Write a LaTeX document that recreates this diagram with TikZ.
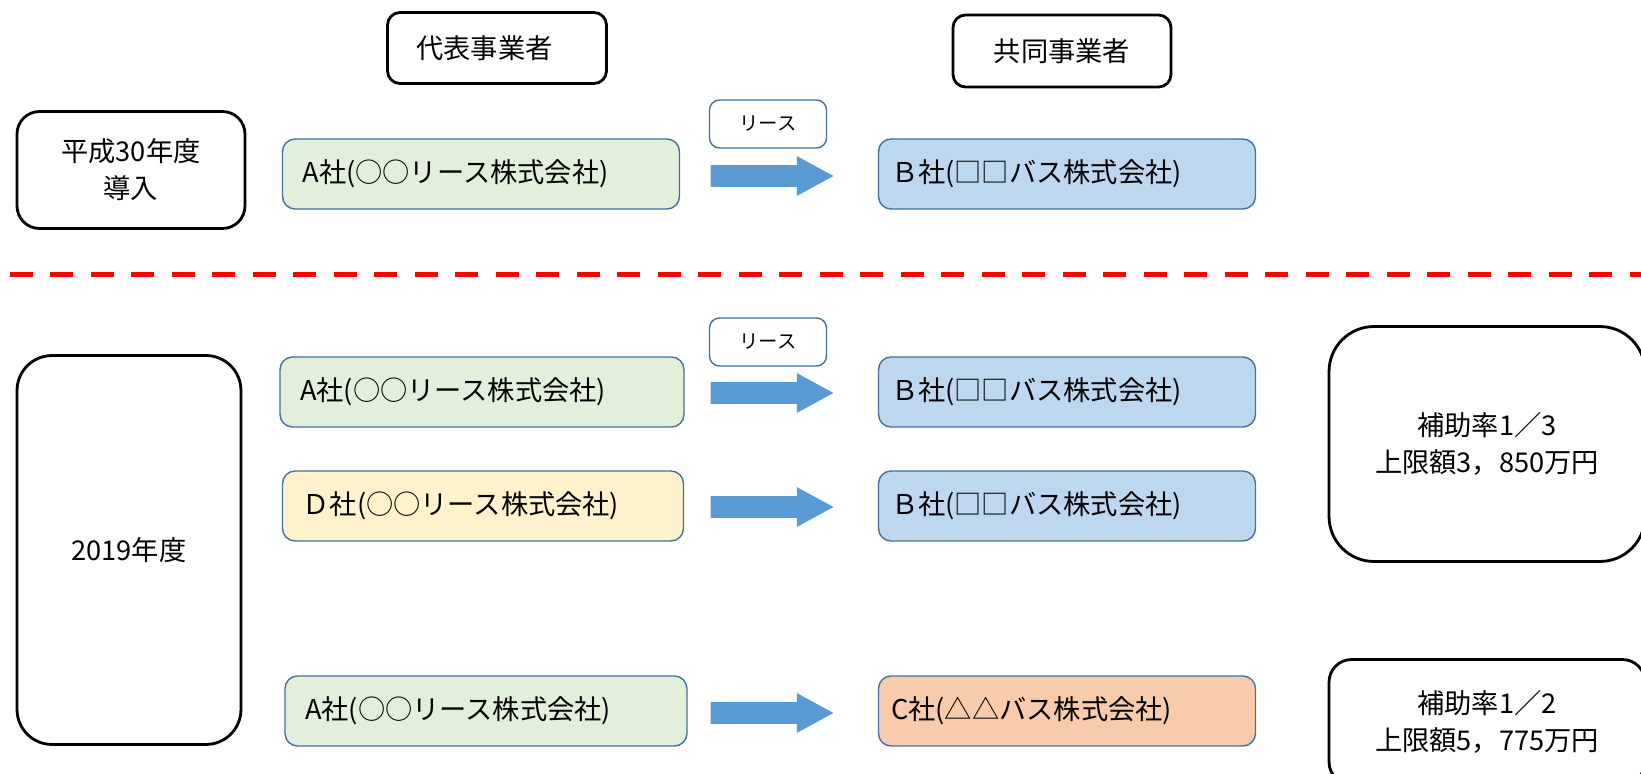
\documentclass[tikz,border=0pt]{standalone}
\usepackage{fontspec}
\setmainfont{Noto Sans CJK JP}
\usepackage{xcolor}
\usetikzlibrary{shapes.arrows,calc}

\definecolor{leasegreen}{HTML}{E2EFDA}
\definecolor{busblue}{HTML}{BDD7EE}
\definecolor{leaseyellow}{HTML}{FFF2CC}
\definecolor{busorange}{HTML}{F8CBAD}
\definecolor{edgeblue}{HTML}{41719C}
\definecolor{arrowblue}{HTML}{5B9BD5}

\begin{document}
\begin{tikzpicture}[x=0.02cm, y=-0.02cm,
    every node/.style={font=\fontsize{15.5}{21}\selectfont},
    titlebox/.style={draw=black, line width=1.6pt, align=center, inner sep=0pt},
    compbox/.style={draw=edgeblue, line width=0.8pt, rounded corners=0.25cm,
        minimum height=1.4cm, inner xsep=0.4cm, align=left},
    busbox/.style={compbox, inner xsep=0.25cm, text width=7.04cm},
    leasetag/.style={draw=edgeblue, fill=white, line width=0.8pt, rounded corners=0.2cm,
        minimum width=2.34cm, minimum height=0.96cm, font=\fontsize{11}{12}\selectfont},
    blockarrow/.style={single arrow, fill=arrowblue, draw=none, inner xsep=0pt,
        inner ysep=0.21cm, single arrow head extend=0.18cm,
        single arrow tip angle=57, minimum height=2.46cm}]

    \useasboundingbox (0,0) rectangle (1641,774);

    %% headers
    \node[titlebox, rounded corners=0.25cm, minimum width=4.38cm, minimum height=1.42cm]
        (daihyo) at (497,48) {代表事業者\hspace*{0.5cm}};
    \node[titlebox, rounded corners=0.25cm, minimum width=4.36cm, minimum height=1.44cm]
        (kyodo) at (1062,51) {共同事業者};

    %% H30
    \node[titlebox, rounded corners=0.45cm, minimum width=4.56cm, minimum height=2.34cm]
        (h30) at (131,170) {平成30年度\\導入};
    \node[compbox, fill=leasegreen, text width=7.14cm] (a1) at (481,174) {A社(○○リース株式会社)};
    \node[busbox, fill=busblue] (b1) at (1067,174) {Ｂ社(□□バス株式会社)};
    \node[leasetag] (lease1) at (768,124) {リース};
    \node[blockarrow] (ar1) at (762,176) {};

    % separator
    \draw[red, line width=0.1cm, dash pattern=on 0.46cm off 0.35cm] (10,274) -- (1641,274);

    %% 2019
    \node[titlebox, rounded corners=0.7cm, minimum width=4.48cm, minimum height=7.78cm]
        (y2019) at (129,550) {2019年度};

    % row 2
    \node[compbox, fill=leasegreen, text width=7.28cm] (a2) at (482,392) {A社(○○リース株式会社)};
    \node[busbox, fill=busblue] (b2) at (1067,392) {Ｂ社(□□バス株式会社)};
    \node[leasetag] (lease2) at (768,342) {リース};
    \node[blockarrow] (ar2) at (762,393) {};

    % row 3
    \node[compbox, fill=leaseyellow, text width=7.22cm] (d3) at (483,506) {Ｄ社(○○リース株式会社)};
    \node[busbox, fill=busblue] (b3) at (1067,506) {Ｂ社(□□バス株式会社)};
    \node[blockarrow] (ar3) at (762,507) {};

    % row 4
    \node[compbox, fill=leasegreen, text width=7.24cm] (a4) at (486,711) {A社(○○リース株式会社)};
    \node[busbox, fill=busorange] (c4) at (1067,711) {C社(△△バス株式会社)};
    \node[blockarrow] (ar4) at (762,713) {};

    %% subsidy
    \node[titlebox, rounded corners=0.9cm, minimum width=6.32cm, minimum height=4.7cm]
        (rate3) at (1487,444) {補助率1／3\\上限額3，850万円};
    \node[titlebox, rounded corners=0.45cm, minimum width=6.32cm, minimum height=2.5cm]
        (rate2) at (1487,722) {補助率1／2\\上限額5，775万円};

\end{tikzpicture}
\end{document}
